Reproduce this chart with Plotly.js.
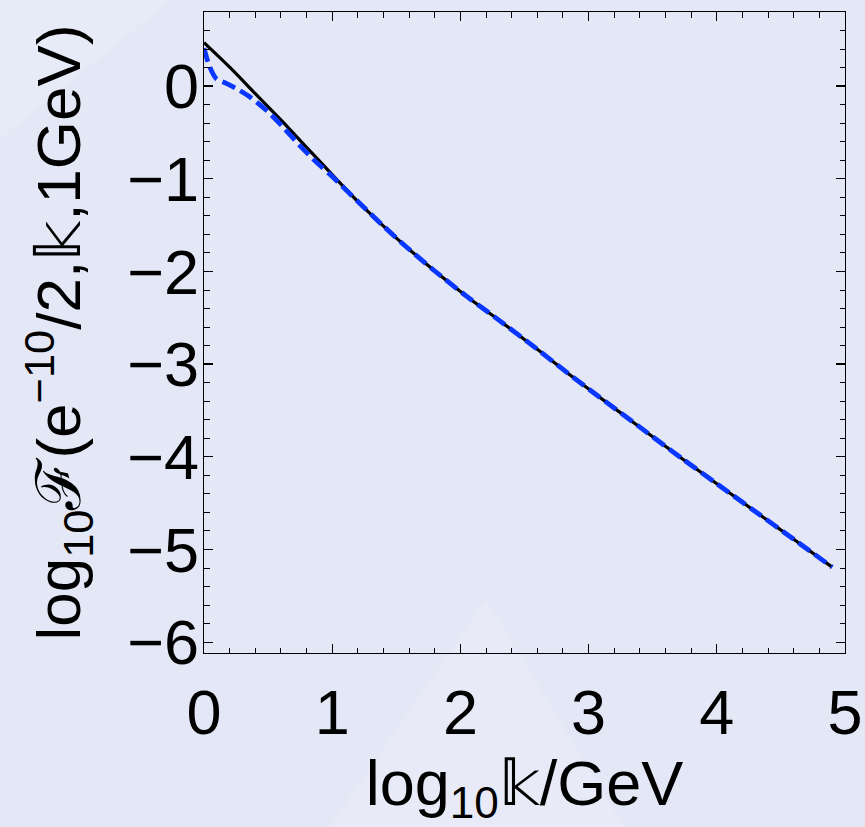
<!DOCTYPE html>
<html>
<head>
<meta charset="utf-8">
<script src="https://cdn.plot.ly/plotly-3.0.1.min.js"></script>
<style>html,body{margin:0;padding:0;background:#e4e7f6;}#chart{width:865px;height:827px;}</style>
</head>
<body>
<div id="chart"></div>
<script>
// Black solid curve
const xBlack = [0, 0.2, 0.4, 0.6, 0.8, 1.0, 1.2, 1.4, 1.55, 1.8, 2.06, 2.3, 2.6, 2.84, 3.06, 3.4, 3.73, 4.0, 4.3, 4.6, 4.9];
const yBlack = [0.47, 0.205, -0.08, -0.365, -0.66, -0.955, -1.245, -1.51, -1.70, -1.995, -2.28, -2.525, -2.84, -3.10, -3.33, -3.68, -4.02, -4.29, -4.59, -4.89, -5.19];
// Blue dashed curve
const xBlue = [0, 0.044, 0.096, 0.174, 0.25, 0.356, 0.486, 0.616, 0.746, 0.876, 1.0, 1.2, 1.4, 1.55, 1.8, 2.06, 2.3, 2.6, 2.84, 3.06, 3.4, 3.73, 4.0, 4.3, 4.6, 4.9];
const yBlue = [0.41, 0.21, 0.08, 0.03, -0.025, -0.115, -0.26, -0.44, -0.64, -0.82, -0.975, -1.245, -1.51, -1.70, -1.995, -2.28, -2.525, -2.84, -3.10, -3.33, -3.68, -4.02, -4.29, -4.59, -4.89, -5.19];
const xTicks = [0, 1, 2, 3, 4, 5];
const yTicks = [0, -1, -2, -3, -4, -5, -6];

const font = 'Liberation Sans, Arial, sans-serif';
const traces = [
  {x: xBlack, y: yBlack, mode: 'lines', line: {color: '#000000', width: 3.2, shape: 'spline', smoothing: 0.8}, hoverinfo: 'skip'},
  {x: xBlue, y: yBlue, mode: 'lines', line: {color: '#0a37ff', width: 4.8, dash: '14px,6px', shape: 'spline', smoothing: 0.8}, hoverinfo: 'skip'}
];
const axisCommon = {
  showgrid: false, zeroline: false, showline: true, linecolor: '#000', linewidth: 1.3,
  mirror: 'ticks', ticks: 'inside', tickcolor: '#000', tickwidth: 1.3, ticklen: 9,
  tickfont: {family: font, size: 63, color: '#000'},
  minor: {ticks: 'inside', dtick: 0.2, ticklen: 5.5, tickcolor: '#000', tickwidth: 1}
};
const layout = {
  width: 865, height: 827,
  margin: {l: 204, r: 19.5, t: 12, b: 174},
  paper_bgcolor: '#e4e7f6', plot_bgcolor: 'rgba(0,0,0,0)',
  showlegend: false,
  xaxis: Object.assign({}, axisCommon, {
    range: [0, 5], tickmode: 'array', tickvals: xTicks, ticktext: xTicks.map(String),
    ticklabelstandoff: 4,
    title: {text: 'log<sub>10</sub>𝕜/GeV', font: {family: font, size: 63, color: '#000'}, standoff: 22}
  }),
  yaxis: Object.assign({}, axisCommon, {
    range: [-6.117, 0.80], tickmode: 'array', tickvals: yTicks, ticktext: yTicks.map(v => v < 0 ? '\u2212' + Math.abs(v) : String(v)),
    ticklabelstandoff: -9,
    title: {text: 'log<sub>10</sub>ℱ(e<sup>\u221210</sup>/2,𝕜,1GeV)', font: {family: font, size: 62, color: '#000'}, standoff: 26}
  }),
  shapes: [
    {type: 'path', xref: 'paper', yref: 'paper', layer: 'below',
     path: 'M 0.44 0.083 L 0.19 -0.28 L 0.66 -0.28 Z',
     fillcolor: 'rgba(255,255,255,0.16)', line: {width: 0}},
    {type: 'path', xref: 'paper', yref: 'paper', layer: 'below',
     path: 'M -0.32 1.02 L -0.05 1.02 L -0.32 0.80 Z',
     fillcolor: 'rgba(255,255,255,0.12)', line: {width: 0}}
  ]
};
Plotly.newPlot('chart', traces, layout, {displayModeBar: false, staticPlot: true});
</script>
</body>
</html>
